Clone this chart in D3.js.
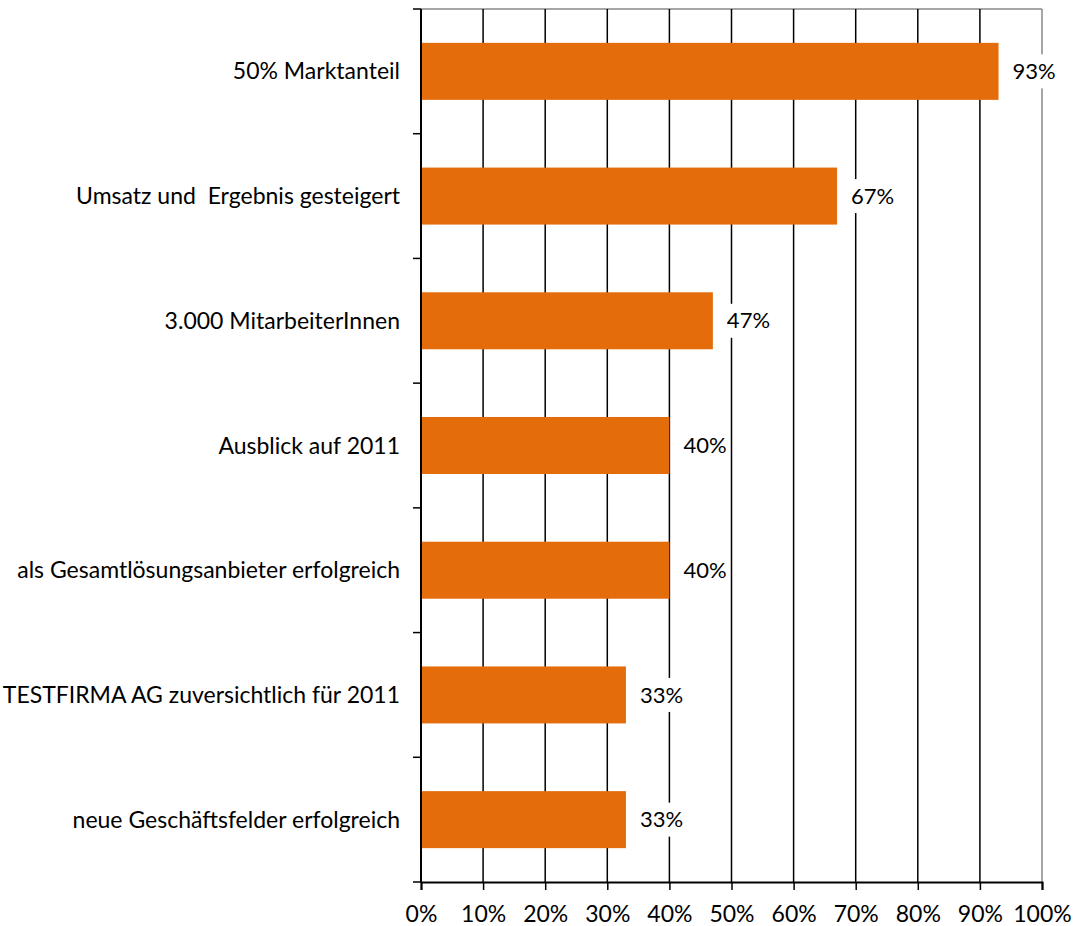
<!DOCTYPE html>
<html>
<head>
<meta charset="utf-8">
<script src="https://cdn.jsdelivr.net/npm/d3@7.9.0/dist/d3.min.js"></script>
<style>
  body { margin: 0; background: #fff; }
  svg text { font-family: Lato, "Open Sans", sans-serif; fill: #000; }
</style>
</head>
<body>
<svg id="chart" width="1081" height="926"></svg>
<script>
const categories = [
  '50% Marktanteil',
  'Umsatz und  Ergebnis gesteigert',
  '3.000 MitarbeiterInnen',
  'Ausblick auf 2011',
  'als Gesamtlösungsanbieter erfolgreich',
  'TESTFIRMA AG zuversichtlich für 2011',
  'neue Geschäftsfelder erfolgreich'
];
const values = [0.93, 0.67, 0.47, 0.40, 0.40, 0.33, 0.33];
const xTicks = [0, 0.1, 0.2, 0.3, 0.4, 0.5, 0.6, 0.7, 0.8, 0.9, 1.0];

const svg = d3.select('#chart');
const margin = { top: 9, left: 421, right: 39, bottom: 44 };
const width = 1081 - margin.left - margin.right;
const height = 926 - margin.top - margin.bottom;
const fontSize = 22;
const catFontSize = 23;

const g = svg.append('g').attr('transform', `translate(${margin.left},${margin.top})`);

const x = d3.scaleLinear().domain([0, 1]).range([0, width]);
const y = d3.scaleBand().domain(categories).range([0, height]).paddingInner(0.543).paddingOuter(0.2715);
const yOuter = d3.scaleBand().domain(categories).range([0, height]);

// top border (gray)
g.append('line').attr('x1', 0).attr('x2', width).attr('y1', 0).attr('y2', 0)
  .attr('stroke', '#888').attr('stroke-width', 1.5);

// vertical gridlines
g.selectAll('.grid').data(xTicks.slice(1)).join('line')
  .attr('class', 'grid')
  .attr('x1', d => x(d)).attr('x2', d => x(d))
  .attr('y1', 0).attr('y2', height)
  .attr('stroke', d => d === 1 ? '#888' : '#000')
  .attr('stroke-width', 1.5);

// bars
g.selectAll('.bar').data(values).join('rect')
  .attr('class', 'bar')
  .attr('x', 0)
  .attr('y', (d, i) => y(categories[i]))
  .attr('width', d => x(d))
  .attr('height', y.bandwidth())
  .attr('fill', '#E46C0A');

// value labels with white box
const labels = g.selectAll('.val').data(values).join('g')
  .attr('class', 'val')
  .attr('transform', (d, i) => `translate(${x(d) + 14},${y(categories[i]) + y.bandwidth() / 2})`);
labels.append('rect').attr('class', 'bg').attr('fill', '#fff');
labels.append('text')
  .attr('dy', '0.35em')
  .style('font-size', fontSize + 'px')
  .text(d => Math.round(d * 100) + '%');
labels.each(function () {
  const t = d3.select(this).select('text').node().getBBox();
  d3.select(this).select('rect')
    .attr('x', t.x - 3).attr('y', -17).attr('width', t.width + 6).attr('height', 34);
});

// left axis
const yAxisG = g.append('g');
yAxisG.append('line').attr('x1', 0).attr('x2', 0).attr('y1', 0).attr('y2', height)
  .attr('stroke', '#000').attr('stroke-width', 2);
const yTickPos = categories.map(c => yOuter(c)).concat([height]);
yAxisG.selectAll('.ytick').data(yTickPos).join('line')
  .attr('x1', -8).attr('x2', 0)
  .attr('y1', d => d).attr('y2', d => d)
  .attr('stroke', '#000').attr('stroke-width', 1.5);
yAxisG.selectAll('.ylab').data(categories).join('text')
  .attr('x', -21)
  .attr('y', c => y(c) + y.bandwidth() / 2)
  .attr('dy', '0.35em')
  .attr('text-anchor', 'end')
  .style('font-size', catFontSize + 'px')
  .style('white-space', 'pre')
  .text(c => c);

// bottom axis
const xAxis = d3.axisBottom(x).tickValues(xTicks).tickFormat(d3.format('.0%')).tickSize(8).tickPadding(16);
const xAxisG = g.append('g').attr('transform', `translate(0,${height})`).call(xAxis);
xAxisG.select('.domain').attr('stroke', '#000').attr('stroke-width', 2);
xAxisG.selectAll('.tick line').attr('stroke', '#000').attr('stroke-width', 1.5);
xAxisG.selectAll('.tick text')
  .style('font-size', catFontSize + 'px')
  .style('font-family', 'Lato, sans-serif')
  .attr('fill', '#000');
</script>
</body>
</html>
